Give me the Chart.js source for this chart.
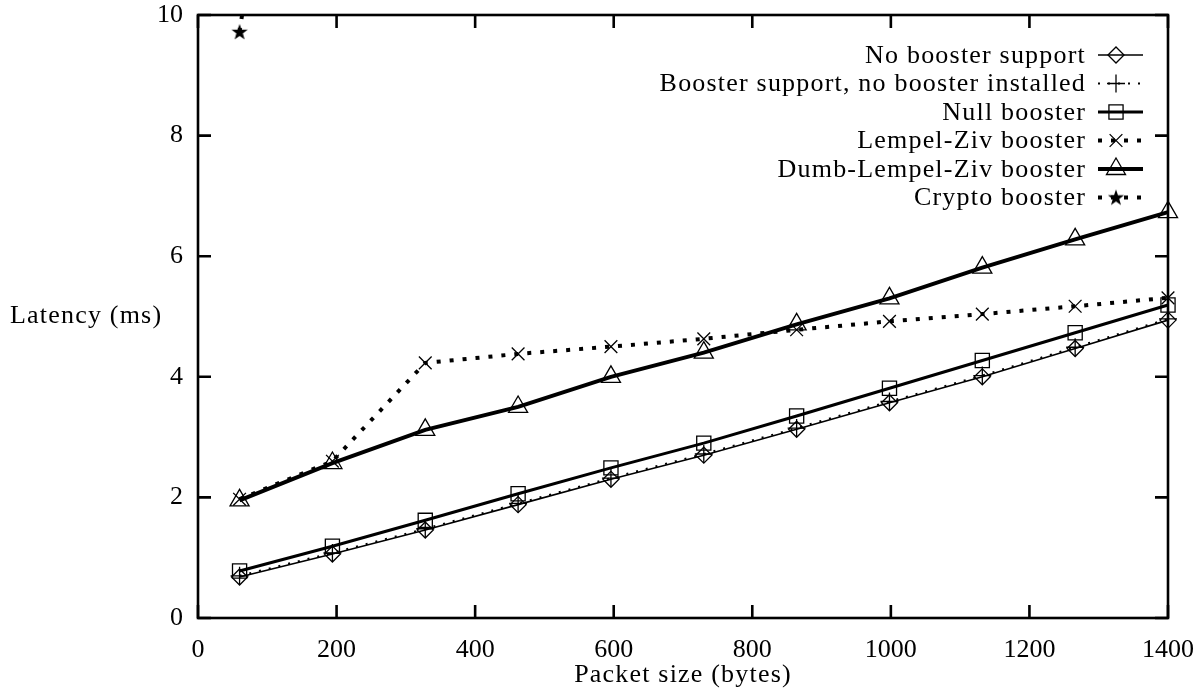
<!DOCTYPE html>
<html>
<head>
<meta charset="utf-8">
<script src="https://cdn.jsdelivr.net/npm/chart.js@4/dist/chart.umd.min.js"></script>
<style>
html,body{margin:0;padding:0;background:#fff;}
canvas{display:block;}
</style>
</head>
<body>
<canvas id="c" width="1201" height="690"></canvas>
<script>
// ---- data ----
const packetSizes = [60, 194, 328, 462, 596, 730, 864, 998, 1132, 1266, 1400];
const noBoosterSupport = [0.68, 1.06, 1.46, 1.88, 2.30, 2.70, 3.13, 3.57, 4.00, 4.47, 4.94];
const boosterNoInstalled = [0.70, 1.08, 1.48, 1.90, 2.32, 2.72, 3.15, 3.59, 4.02, 4.49, 4.96];
const nullBooster = [0.78, 1.19, 1.62, 2.06, 2.49, 2.90, 3.35, 3.81, 4.27, 4.73, 5.19];
const lempelZiv = [1.97, 2.60, 4.23, 4.38, 4.50, 4.63, 4.78, 4.92, 5.04, 5.17, 5.31];
const dumbLempelZiv = [1.95, 2.57, 3.12, 3.50, 4.00, 4.40, 4.87, 5.30, 5.81, 6.28, 6.73];
const cryptoBooster = [9.72, 20.1];
const seriesNames = ["No booster support", "Booster support, no booster installed", "Null booster",
  "Lempel-Ziv booster", "Dumb-Lempel-Ziv booster", "Crypto booster"];
const xTicks = [0, 200, 400, 600, 800, 1000, 1200, 1400];
const yTicks = [0, 2, 4, 6, 8, 10];
const xTitle = "Packet size (bytes)";
const yTitle = "Latency (ms)";

const FONT = "'Liberation Serif', 'Times New Roman', serif";
const FS = 26;

function pts(vals) { return vals.map((v, i) => ({x: packetSizes[i], y: v})); }

// five-pointed filled star marker
const star = document.createElement('canvas');
star.width = 18; star.height = 18;
(function () {
  const c = star.getContext('2d');
  c.fillStyle = '#000';
  c.beginPath();
  for (let k = 0; k < 10; k++) {
    const r = k % 2 === 0 ? 8.5 : 3.4;
    const a = -Math.PI / 2 + k * Math.PI / 5;
    const px = 9 + r * Math.cos(a), py = 9.5 + r * Math.sin(a);
    if (k === 0) c.moveTo(px, py); else c.lineTo(px, py);
  }
  c.closePath();
  c.fill();
})();

const base = {
  borderColor: '#000', pointBorderColor: '#000', pointBackgroundColor: 'rgba(0,0,0,0)',
  tension: 0, fill: false, borderCapStyle: 'butt', clip: false
};

const datasets = [
  Object.assign({}, base, {label: seriesNames[0], data: pts(noBoosterSupport), borderWidth: 1.6,
    pointStyle: 'rectRot', pointRadius: 8, pointBorderWidth: 1.3}),
  Object.assign({}, base, {label: seriesNames[1], data: pts(boosterNoInstalled), borderWidth: 2,
    borderDash: [2, 8], pointStyle: 'cross', pointRadius: 9, pointBorderWidth: 1.3}),
  Object.assign({}, base, {label: seriesNames[2], data: pts(nullBooster), borderWidth: 3,
    pointStyle: 'rect', pointRadius: 10, pointBorderWidth: 1.3}),
  Object.assign({}, base, {label: seriesNames[3], data: pts(lempelZiv), borderWidth: 4,
    borderDash: [4, 9], pointStyle: 'crossRot', pointRadius: 9, pointBorderWidth: 1.3}),
  Object.assign({}, base, {label: seriesNames[4], data: pts(dumbLempelZiv), borderWidth: 4,
    pointStyle: 'triangle', pointRadius: 11, pointBorderWidth: 1.3}),
  Object.assign({}, base, {label: seriesNames[5], data: pts(cryptoBooster), borderWidth: 4,
    borderDash: [4, 9], pointStyle: star, pointRadius: 9, pointBorderWidth: 1,
    clip: {left: 20, right: 20, top: 0, bottom: 20}})
];

const framePlugin = {
  id: 'frame',
  beforeDraw(chart) {
    const ctx = chart.ctx;
    ctx.save();
    ctx.fillStyle = '#fff';
    ctx.fillRect(0, 0, chart.width, chart.height);
    ctx.restore();
  },
  afterDatasetsDraw(chart) {
    const ctx = chart.ctx, a = chart.chartArea;
    const xs = chart.scales.x, ys = chart.scales.y;
    ctx.save();
    ctx.strokeStyle = '#000';
    ctx.lineWidth = 2.6;
    ctx.setLineDash([]);
    ctx.lineCap = 'square';
    ctx.strokeRect(a.left, a.top, a.right - a.left, a.bottom - a.top);
    ctx.lineCap = 'butt';
    ctx.beginPath();
    xs.ticks.forEach(t => {
      const px = xs.getPixelForValue(t.value);
      ctx.moveTo(px, a.bottom); ctx.lineTo(px, a.bottom - 13);
      ctx.moveTo(px, a.top); ctx.lineTo(px, a.top + 13);
    });
    ys.ticks.forEach(t => {
      const py = ys.getPixelForValue(t.value);
      ctx.moveTo(a.left, py); ctx.lineTo(a.left + 13, py);
      ctx.moveTo(a.right, py); ctx.lineTo(a.right - 13, py);
    });
    ctx.stroke();

    // axis titles
    ctx.fillStyle = '#000';
    ctx.font = FS + 'px ' + FONT;
    ctx.letterSpacing = '1.2px';
    ctx.textBaseline = 'middle';
    ctx.textAlign = 'left';
    ctx.fillText(yTitle, 10, (a.top + a.bottom) / 2);
    ctx.textAlign = 'center';
    ctx.fillText(xTitle, (a.left + a.right) / 2, 675);

    // legend (gnuplot style: right-aligned text, sample to the right)
    chart.data.datasets.forEach((ds, i) => {
      const y = 55 + i * 28.5;
      ctx.textAlign = 'right';
      ctx.fillText(ds.label, 1086, y + 1);
      ctx.beginPath();
      ctx.lineWidth = ds.borderWidth;
      ctx.setLineDash(ds.borderDash || []);
      ctx.moveTo(1098, y); ctx.lineTo(1143, y);
      ctx.stroke();
      ctx.setLineDash([]);
      ctx.fillStyle = 'rgba(0,0,0,0)';
      ctx.strokeStyle = '#000';
      ctx.lineWidth = ds.pointBorderWidth;
      Chart.helpers.drawPoint(ctx, {pointStyle: ds.pointStyle, rotation: 0, radius: ds.pointRadius,
        borderWidth: ds.pointBorderWidth}, 1116, y);
      ctx.fillStyle = '#000';
    });
    ctx.restore();
  }
};

function noPad(s) { s.paddingLeft = 0; s.paddingRight = 0; s.paddingTop = 0; s.paddingBottom = 0; }

new Chart(document.getElementById('c'), {
  type: 'line',
  data: {datasets},
  options: {
    responsive: false,
    animation: false,
    devicePixelRatio: 1,
    layout: {padding: {left: 0, right: 33, top: 15, bottom: 0}},
    plugins: {legend: {display: false}, tooltip: {enabled: false}},
    scales: {
      x: {
        type: 'linear', min: 0, max: 1400,
        afterFit(s) { s.height = 72; noPad(s); },
        afterBuildTicks(s) { s.ticks = xTicks.map(v => ({value: v})); },
        grid: {display: false, drawTicks: false},
        border: {display: false},
        ticks: {color: '#000', font: {family: FONT, size: FS}, padding: 17, maxRotation: 0, autoSkip: false,
          callback: v => String(v)}
      },
      y: {
        type: 'linear', min: 0, max: 10,
        afterFit(s) { s.width = 198; noPad(s); },
        afterBuildTicks(s) { s.ticks = yTicks.map(v => ({value: v})); },
        grid: {display: false, drawTicks: false},
        border: {display: false},
        ticks: {color: '#000', font: {family: FONT, size: FS}, padding: 15, callback: v => String(v)}
      }
    }
  },
  plugins: [framePlugin]
});
</script>
</body>
</html>
